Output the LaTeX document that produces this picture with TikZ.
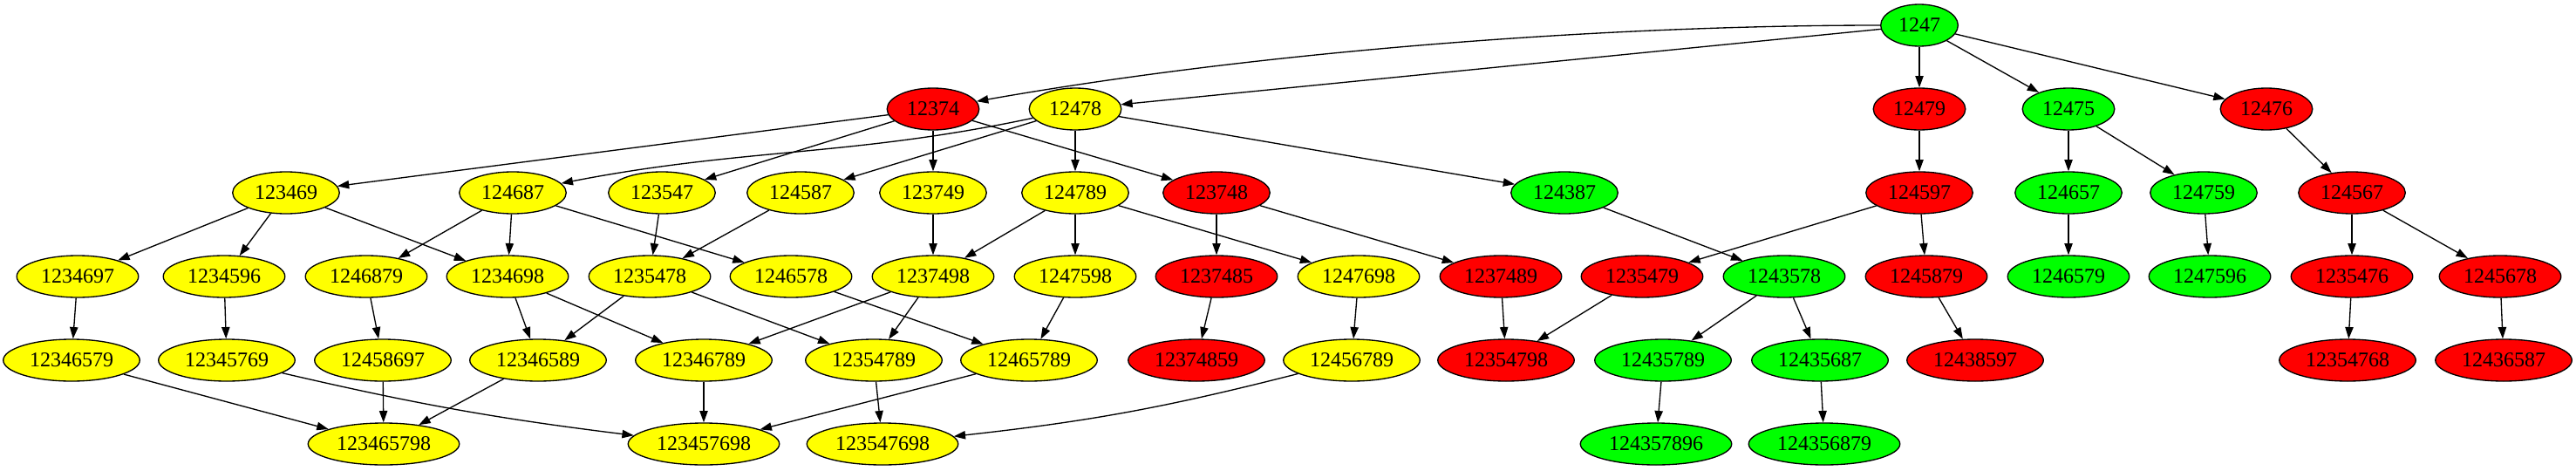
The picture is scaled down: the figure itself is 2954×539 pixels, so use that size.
\documentclass[tikz,border=0pt]{standalone}
\usepackage{fontspec}
\setmainfont{Liberation Serif}
\usetikzlibrary{shapes.geometric,arrows.meta}

\tikzset{
    knoten/.style={ellipse, draw, line width=1pt, inner xsep=5.5pt, inner ysep=2pt,
        minimum height=36pt, font=\fontsize{18}{20}\selectfont},
    gelb/.style={knoten, fill={rgb,255:red,255;green,255;blue,0}},
    rot/.style={knoten, fill={rgb,255:red,255;green,0;blue,0}},
    gruen/.style={knoten, fill={rgb,255:red,0;green,255;blue,0}},
    pfeil/.style={line width=1pt, -{Triangle[length=10pt,width=7pt]}}
}

\begin{document}
\begin{tikzpicture}[x=0.75pt, y=-0.75pt]
        \useasboundingbox (0,0) rectangle (2954,539);
        % Ebene 0 und 1
        \path node[gruen] (n1247) at (2201,29) {1247}
        node[rot] (n12374) at (1070,125) {12374}
        node[gelb] (n12478) at (1233,125) {12478}
        node[rot] (n12479) at (2201,125) {12479}
        node[gruen] (n12475) at (2372,125) {12475}
        node[rot] (n12476) at (2599,125) {12476};
        % Ebene 2
        \path node[gelb] (n123469) at (328,221) {123469}
        node[gelb] (n124687) at (588,221) {124687}
        node[gelb] (n123547) at (759,221) {123547}
        node[gelb] (n124587) at (918,221) {124587}
        node[gelb] (n123749) at (1070,221) {123749}
        node[gelb] (n124789) at (1233,221) {124789}
        node[rot] (n123748) at (1395,221) {123748}
        node[gruen] (n124387) at (1794,221) {124387}
        node[rot] (n124597) at (2201,221) {124597}
        node[gruen] (n124657) at (2372,221) {124657}
        node[gruen] (n124759) at (2527,221) {124759}
        node[rot] (n124567) at (2697,221) {124567};
        % Ebene 3
        \path node[gelb] (n1234697) at (89,317) {1234697}
        node[gelb] (n1234596) at (257,317) {1234596}
        node[gelb] (n1246879) at (420,317) {1246879}
        node[gelb] (n1234698) at (582,317) {1234698}
        node[gelb] (n1235478) at (745,317) {1235478}
        node[gelb] (n1246578) at (907,317) {1246578}
        node[gelb] (n1237498) at (1070,317) {1237498}
        node[gelb] (n1247598) at (1233,317) {1247598}
        node[rot] (n1237485) at (1395,317) {1237485}
        node[gelb] (n1247698) at (1558,317) {1247698}
        node[rot] (n1237489) at (1721,317) {1237489}
        node[rot] (n1235479) at (1883,317) {1235479}
        node[gruen] (n1243578) at (2046,317) {1243578}
        node[rot] (n1245879) at (2209,317) {1245879}
        node[gruen] (n1246579) at (2372,317) {1246579}
        node[gruen] (n1247596) at (2534,317) {1247596}
        node[rot] (n1235476) at (2697,317) {1235476}
        node[rot] (n1245678) at (2867,317) {1245678};
        % Ebene 4
        \path node[gelb] (n12346579) at (82,413) {12346579}
        node[gelb] (n12345769) at (260,413) {12345769}
        node[gelb] (n12458697) at (439,413) {12458697}
        node[gelb] (n12346589) at (617,413) {12346589}
        node[gelb] (n12346789) at (807,413) {12346789}
        node[gelb] (n12354789) at (1002,413) {12354789}
        node[gelb] (n12465789) at (1180,413) {12465789}
        node[rot] (n12374859) at (1372,413) {12374859}
        node[gelb] (n12456789) at (1550,413) {12456789}
        node[rot] (n12354798) at (1727,413) {12354798}
        node[gruen] (n12435789) at (1907,413) {12435789}
        node[gruen] (n12435687) at (2087,413) {12435687}
        node[rot] (n12438597) at (2265,413) {12438597}
        node[rot] (n12354768) at (2692,413) {12354768}
        node[rot] (n12436587) at (2871,413) {12436587};
        % Ebene 5
        \path node[gelb] (n123465798) at (440,509) {123465798}
        node[gelb] (n123457698) at (807,509) {123457698}
        node[gelb] (n123547698) at (1012,509) {123547698}
        node[gruen] (n124357896) at (1899,509) {124357896}
        node[gruen] (n124356879) at (2092,509) {124356879};

        % Kanten
        \draw[pfeil] (n1247.west) to[out=180, in=10, looseness=0.8] (n12374);
        \draw[pfeil] (n1247) -- (n12478);
        \draw[pfeil] (n1247) -- (n12479);
        \draw[pfeil] (n1247) -- (n12475);
        \draw[pfeil] (n1247) -- (n12476);
        \draw[pfeil] (n12374) -- (n123469);
        \draw[pfeil] (n12374) -- (n123547);
        \draw[pfeil] (n12374) -- (n123749);
        \draw[pfeil] (n12374) -- (n123748);
        \draw[pfeil] (n12478) to[out=192, in=11] (n124687);
        \draw[pfeil] (n12478) -- (n124587);
        \draw[pfeil] (n12478) -- (n124789);
        \draw[pfeil] (n12478) -- (n124387);
        \draw[pfeil] (n12479) -- (n124597);
        \draw[pfeil] (n12475) -- (n124657);
        \draw[pfeil] (n12475) -- (n124759);
        \draw[pfeil] (n12476) -- (n124567);
        \draw[pfeil] (n123469) -- (n1234697);
        \draw[pfeil] (n123469) -- (n1234596);
        \draw[pfeil] (n123469) -- (n1234698);
        \draw[pfeil] (n124687) -- (n1246879);
        \draw[pfeil] (n124687) -- (n1234698);
        \draw[pfeil] (n124687) -- (n1246578);
        \draw[pfeil] (n123547) -- (n1235478);
        \draw[pfeil] (n124587) -- (n1235478);
        \draw[pfeil] (n123749) -- (n1237498);
        \draw[pfeil] (n124789) -- (n1237498);
        \draw[pfeil] (n124789) -- (n1247598);
        \draw[pfeil] (n124789) -- (n1247698);
        \draw[pfeil] (n123748) -- (n1237485);
        \draw[pfeil] (n123748) -- (n1237489);
        \draw[pfeil] (n124387) -- (n1243578);
        \draw[pfeil] (n124597) -- (n1235479);
        \draw[pfeil] (n124597) -- (n1245879);
        \draw[pfeil] (n124657) -- (n1246579);
        \draw[pfeil] (n124759) -- (n1247596);
        \draw[pfeil] (n124567) -- (n1235476);
        \draw[pfeil] (n124567) -- (n1245678);
        \draw[pfeil] (n1234697) -- (n12346579);
        \draw[pfeil] (n1234596) -- (n12345769);
        \draw[pfeil] (n1246879) -- (n12458697);
        \draw[pfeil] (n1234698) -- (n12346589);
        \draw[pfeil] (n1234698) -- (n12346789);
        \draw[pfeil] (n1235478) -- (n12346589);
        \draw[pfeil] (n1235478) -- (n12354789);
        \draw[pfeil] (n1246578) -- (n12465789);
        \draw[pfeil] (n1237498) -- (n12346789);
        \draw[pfeil] (n1237498) -- (n12354789);
        \draw[pfeil] (n1247598) -- (n12465789);
        \draw[pfeil] (n1237485) -- (n12374859);
        \draw[pfeil] (n1247698) -- (n12456789);
        \draw[pfeil] (n1237489) -- (n12354798);
        \draw[pfeil] (n1235479) -- (n12354798);
        \draw[pfeil] (n1243578) -- (n12435789);
        \draw[pfeil] (n1243578) -- (n12435687);
        \draw[pfeil] (n1245879) -- (n12438597);
        \draw[pfeil] (n1235476) -- (n12354768);
        \draw[pfeil] (n1245678) -- (n12436587);
        \draw[pfeil] (n12346579) -- (n123465798);
        \draw[pfeil] (n12345769) to[bend right=3] (n123457698);
        \draw[pfeil] (n12458697) -- (n123465798);
        \draw[pfeil] (n12346589) -- (n123465798);
        \draw[pfeil] (n12346789) -- (n123457698);
        \draw[pfeil] (n12354789) -- (n123547698);
        \draw[pfeil] (n12465789) -- (n123457698);
        \draw[pfeil] (n12456789) to[bend left=4] (n123547698);
        \draw[pfeil] (n12435789) -- (n124357896);
        \draw[pfeil] (n12435687) -- (n124356879);
    \end{tikzpicture}
\end{document}
